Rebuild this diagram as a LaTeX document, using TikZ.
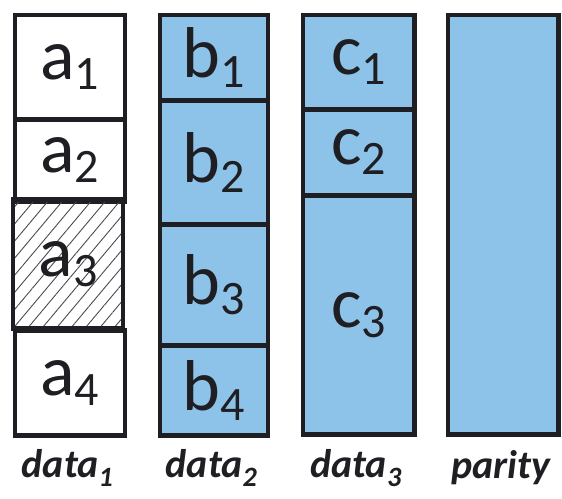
\documentclass[tikz,border=0pt]{standalone}
\usepackage{fontspec}
\setmainfont{Carlito}
\usetikzlibrary{patterns.meta}
\definecolor{cellblue}{RGB}{141,195,232}
\definecolor{ink}{RGB}{30,30,35}
\tikzset{
  cell/.style={draw=ink, line width=4.5pt, rectangle, inner sep=0pt, anchor=north west,
    font=\fontsize{72}{72}\selectfont, text=ink},
  bluecell/.style={cell, fill=cellblue},
  hatchcell/.style={cell, pattern={Lines[angle=50,distance=11pt,line width=0.9pt]}, pattern color=ink!80},
  lab/.style={font=\fontsize{40}{40}\selectfont\bfseries\itshape, text=ink}
}
\newcommand{\sub}[2]{#1\raisebox{-0.14em}{\fontsize{48}{48}\selectfont #2}}
\begin{document}
\begin{tikzpicture}[x=1pt,y=-1pt]
\useasboundingbox (0,0) rectangle (562,498);
% column 1
\node[cell, minimum width=110pt, minimum height=104.5pt] (a1) at (12.5,12.5) {\sub{a}{1}};
\node[cell, minimum width=110pt, minimum height=82pt] (a2) at (12.5,117) {\sub{a}{2}};
\node[hatchcell, minimum width=110pt, minimum height=129pt] (a3) at (12.5,199) {\sub{a}{3}};
\node[cell, minimum width=110pt, minimum height=105pt] (a4) at (12.5,328) {\sub{a}{4}};
% column 2
\node[bluecell, minimum width=108pt, minimum height=85.5pt] (b1) at (157.5,12.5) {\sub{b}{1}};
\node[bluecell, minimum width=108pt, minimum height=124pt] (b2) at (157.5,98) {\sub{b}{2}};
\node[bluecell, minimum width=108pt, minimum height=121pt] (b3) at (157.5,222) {\sub{b}{3}};
\node[bluecell, minimum width=108pt, minimum height=90pt] (b4) at (157.5,343) {\sub{b}{4}};
% column 3
\node[bluecell, minimum width=111.5pt, minimum height=94.5pt] (c1) at (300.5,12.5) {\sub{c}{1}};
\node[bluecell, minimum width=111.5pt, minimum height=86pt] (c2) at (300.5,107) {\sub{c}{2}};
\node[bluecell, minimum width=111.5pt, minimum height=239pt] (c3) at (300.5,193) {\sub{c}{3}};
% column 4
\node[bluecell, minimum width=110.5pt, minimum height=419.5pt] (p) at (445.5,12.5) {};
% labels
\node[lab] (l1) at (67.5,468) {data\textsubscript{1}};
\node[lab] (l2) at (211.5,468) {data\textsubscript{2}};
\node[lab] (l3) at (356,468) {data\textsubscript{3}};
\node[lab] (l4) at (500.75,468) {parity};
\end{tikzpicture}
\end{document}
